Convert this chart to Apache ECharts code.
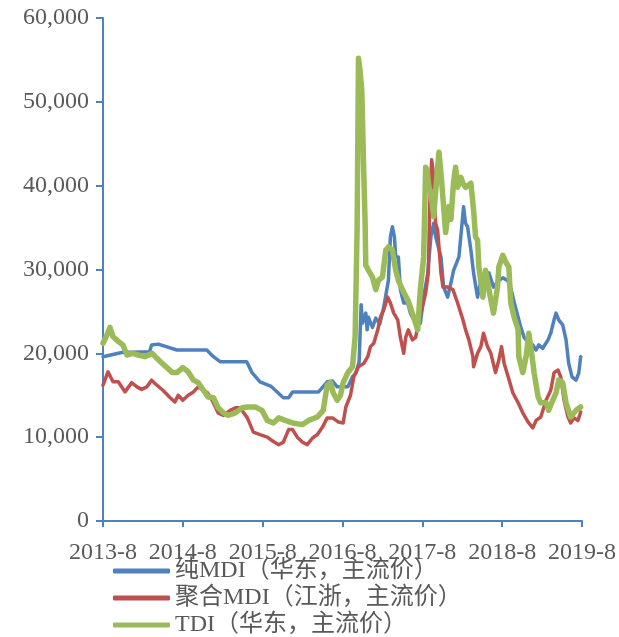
<!DOCTYPE html>
<html>
<head>
<meta charset="utf-8">
<script src="https://cdn.jsdelivr.net/npm/echarts@6/dist/echarts.min.js"></script>
<style>
  html, body { margin: 0; padding: 0; background: #fff; }
  #main { width: 619px; height: 637px; }
</style>
</head>
<body>
<div id="main"></div>
<script>
// x = 自2013-8起的月数
var yearTicks = ['2013-8', '2014-8', '2015-8', '2016-8', '2017-8', '2018-8', '2019-8'];
var seriesNames = ['纯MDI（华东，主流价）', '聚合MDI（江浙，主流价）', 'TDI（华东，主流价）'];

// 纯MDI
var pureMonths = [0, 2.8, 7.0, 7.3, 8.3, 11.1, 15.6, 16.6, 17.6, 21.6, 22.4, 23.6, 25.2, 25.9, 27.1, 27.9, 28.5, 32.4, 33.7, 34.5, 35.2, 36.8, 37.5, 38.0, 38.5, 38.8, 39.0, 39.5, 39.7, 39.9, 40.5, 41.0, 41.6, 42.2, 42.9, 43.2, 43.5, 43.8, 44.0, 44.4, 44.7, 45.2, 45.8, 46.2, 47.0, 47.7, 48.2, 48.8, 49.3, 49.7, 50.0, 50.8, 51.2, 51.8, 52.3, 52.7, 53.5, 54.2, 54.5, 54.8, 55.3, 55.7, 56.3, 56.8, 57.2, 58.0, 58.7, 59.5, 60.1, 60.8, 61.3, 61.8, 62.4, 62.8, 63.3, 64.0, 64.6, 65.1, 65.5, 66.1, 66.9, 67.3, 67.8, 68.1, 68.5, 69.1, 69.6, 70.0, 70.5, 71.1, 71.5, 71.8];
var pureValues = [19600, 20100, 20200, 21000, 21100, 20400, 20400, 19600, 19000, 19000, 17700, 16600, 16100, 15600, 14700, 14700, 15400, 15400, 16600, 16700, 16000, 16000, 17200, 17600, 19000, 25800, 23600, 24800, 22800, 24300, 23100, 24200, 23500, 25500, 28700, 33900, 35100, 33900, 31500, 31500, 27600, 26000, 26000, 24800, 23600, 23600, 26700, 29500, 34000, 35500, 33900, 31500, 27900, 26700, 28400, 29900, 31500, 37500, 35500, 35100, 32300, 29600, 26700, 28700, 28400, 29600, 27900, 28700, 29000, 28700, 27800, 26100, 24300, 23100, 21900, 21200, 21000, 20400, 21000, 20600, 21600, 22400, 24000, 24800, 24000, 23400, 21600, 18800, 17200, 16800, 17600, 19600];

// 聚合MDI
var polyMonths = [0, 0.75, 1.5, 2.3, 3.3, 4.3, 5.1, 5.8, 6.6, 7.3, 8.1, 9.0, 10.1, 10.8, 11.3, 12.0, 12.8, 13.6, 14.3, 15.1, 15.7, 16.4, 17.3, 18.1, 19.1, 19.9, 20.6, 21.7, 22.6, 23.6, 24.7, 25.2, 26.4, 27.1, 27.9, 28.5, 29.2, 30.0, 30.7, 31.5, 32.2, 33.0, 33.7, 34.5, 35.4, 36.1, 36.5, 37.2, 37.7, 38.4, 39.2, 39.8, 40.2, 40.7, 41.3, 41.7, 42.2, 42.8, 43.2, 43.7, 44.3, 44.7, 45.2, 45.5, 45.9, 46.5, 47.0, 47.4, 48.0, 48.5, 48.9, 49.1, 49.4, 49.6, 50.0, 50.3, 50.8, 51.1, 51.8, 52.6, 53.3, 54.1, 54.5, 55.0, 55.6, 55.7, 56.3, 56.8, 57.2, 57.8, 58.3, 59.0, 59.5, 59.9, 60.3, 60.9, 61.6, 62.4, 63.1, 63.9, 64.6, 65.1, 65.8, 66.6, 67.3, 67.8, 68.4, 68.8, 69.3, 69.9, 70.3, 70.8, 71.4, 71.8];
var polyValues = [16200, 17800, 16600, 16600, 15400, 16500, 16000, 15700, 16000, 16800, 16200, 15600, 14700, 14200, 15000, 14400, 15000, 15400, 16000, 15600, 15300, 14400, 12900, 12600, 13200, 13500, 13500, 12300, 10600, 10300, 10000, 9700, 9100, 9400, 10900, 10900, 10000, 9400, 9100, 9900, 10300, 11200, 12300, 12300, 11800, 11700, 13600, 15000, 17200, 18400, 18800, 19600, 20800, 21200, 22800, 24300, 25200, 26700, 26000, 24800, 24000, 21900, 20000, 21900, 22800, 21600, 21900, 23600, 25500, 27200, 29600, 37500, 43100, 41900, 35500, 34700, 29600, 27900, 27900, 27600, 26000, 24000, 22800, 21600, 19600, 18400, 20000, 20800, 22400, 20800, 20000, 17700, 19200, 20800, 18800, 17200, 15300, 14100, 12900, 11800, 11100, 12000, 12400, 14400, 15600, 17700, 18000, 17200, 14400, 12400, 11700, 12300, 12000, 13000];

// TDI
var tdiMonths = [0, 0.6, 1.05, 1.5, 2.3, 3.0, 3.6, 4.4, 5.3, 6.3, 7.4, 8.1, 8.9, 9.6, 10.4, 11.1, 12.0, 12.8, 13.6, 14.3, 15.1, 15.8, 16.6, 17.3, 18.1, 18.8, 19.9, 20.9, 21.8, 22.9, 23.9, 24.7, 25.6, 26.4, 27.4, 28.5, 30.0, 30.9, 32.2, 33.1, 33.7, 34.2, 34.6, 35.2, 35.7, 36.1, 36.8, 37.5, 37.9, 38.2, 38.4, 38.6, 38.9, 39.2, 39.4, 39.5, 39.9, 40.5, 41.0, 41.4, 42.0, 42.5, 42.9, 43.5, 44.0, 44.4, 45.0, 45.8, 46.2, 46.7, 47.3, 47.7, 48.2, 48.5, 48.7, 49.0, 49.3, 49.7, 50.3, 50.5, 50.8, 51.2, 51.5, 52.0, 52.3, 52.7, 53.0, 53.3, 53.8, 54.1, 54.5, 55.3, 55.7, 56.0, 56.3, 56.5, 57.1, 57.5, 58.0, 58.7, 59.3, 59.5, 60.1, 60.6, 61.0, 61.3, 61.8, 62.4, 62.5, 63.1, 63.6, 64.0, 64.5, 64.8, 65.4, 65.8, 66.6, 67.0, 67.6, 68.1, 68.5, 69.1, 69.6, 70.3, 71.1, 71.8];
var tdiValues = [21200, 22200, 23100, 22000, 21400, 21000, 19800, 20000, 19800, 19600, 20000, 19400, 18800, 18300, 17700, 17700, 18300, 17800, 16800, 16500, 15600, 14800, 14700, 13500, 12900, 12600, 12900, 13500, 13600, 13600, 13200, 12000, 11700, 12300, 12000, 11700, 11500, 12000, 12400, 13200, 16200, 16500, 15300, 14400, 15000, 16500, 17700, 18400, 22000, 35000, 55200, 54000, 51400, 41500, 35500, 30500, 29900, 29100, 27600, 28700, 29100, 32300, 32700, 32300, 29900, 28700, 27600, 26400, 25500, 24300, 22800, 27600, 31500, 42200, 41900, 39800, 39100, 36300, 42200, 44000, 41500, 37500, 34400, 37500, 36000, 40500, 42200, 39800, 41000, 40300, 39800, 40300, 37100, 33900, 33500, 30300, 26700, 29900, 27600, 24800, 27900, 30300, 31700, 30800, 30300, 26000, 24300, 22800, 19600, 17700, 19600, 22400, 19600, 17700, 14800, 14100, 14100, 13200, 14400, 15300, 16800, 16500, 14100, 12400, 13200, 13600];

function pairs(xs, ys) {
  var out = [];
  for (var i = 0; i < xs.length; i++) {
    out.push([xs[i], ys[i]]);
  }
  return out;
}

var textColor = '#595959';
var axisColor = '#4f81bd';
var serif = '"Liberation Serif", "Times New Roman", "Noto Sans CJK SC", serif';

var myChart = echarts.init(document.getElementById('main'));
var option = {
  animation: false,
  backgroundColor: '#ffffff',
  grid: { left: 103, right: 37, top: 18, bottom: 116, containLabel: false },
  legend: {
    orient: 'vertical',
    left: 113,
    top: 559,
    padding: 0,
    height: 80,
    itemGap: 3,
    itemWidth: 57,
    itemHeight: 5,
    icon: 'roundRect',
    textStyle: { color: textColor, fontSize: 24, lineHeight: 24, fontFamily: serif, padding: [0, 0, 0, 0] },
    data: seriesNames
  },
  xAxis: {
    type: 'value',
    min: 0,
    max: 72,
    interval: 12,
    axisLine: { lineStyle: { color: axisColor, width: 2 } },
    axisTick: { show: true, length: 6, lineStyle: { color: axisColor, width: 2 } },
    splitLine: { show: false },
    axisLabel: {
      color: textColor,
      fontSize: 24,
      fontFamily: serif,
      margin: 20,
      formatter: function (v) { return yearTicks[Math.round(v / 12)]; }
    }
  },
  yAxis: {
    type: 'value',
    min: 0,
    max: 60000,
    interval: 10000,
    axisLine: { show: true, lineStyle: { color: axisColor, width: 2 } },
    axisTick: { show: true, length: 7, lineStyle: { color: axisColor, width: 2 } },
    splitLine: { show: false },
    axisLabel: {
      color: textColor,
      fontSize: 24,
      fontFamily: serif,
      margin: 14,
      formatter: function (v) { return v.toLocaleString('en-US'); }
    }
  },
  series: [
    {
      name: seriesNames[0],
      type: 'line',
      showSymbol: false,
      data: pairs(pureMonths, pureValues),
      lineStyle: { color: '#4f81bd', width: 3.5, join: 'round', cap: 'round' },
      itemStyle: { color: '#4f81bd' }
    },
    {
      name: seriesNames[1],
      type: 'line',
      showSymbol: false,
      data: pairs(polyMonths, polyValues),
      lineStyle: { color: '#c0504d', width: 3.5, join: 'round', cap: 'round' },
      itemStyle: { color: '#c0504d' }
    },
    {
      name: seriesNames[2],
      type: 'line',
      showSymbol: false,
      data: pairs(tdiMonths, tdiValues),
      lineStyle: { color: '#9bbb59', width: 5.5, join: 'round', cap: 'round' },
      itemStyle: { color: '#9bbb59' }
    }
  ]
};
myChart.setOption(option);
</script>
</body>
</html>
